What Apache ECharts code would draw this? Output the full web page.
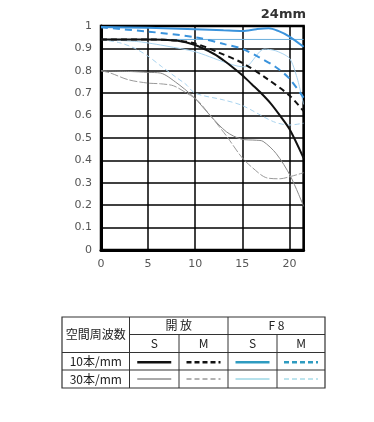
<!DOCTYPE html>
<html>
<head>
<meta charset="utf-8">
<script src="https://cdn.jsdelivr.net/npm/echarts@6/dist/echarts.min.js"></script>
<style>
html,body{margin:0;padding:0;background:#fff;}
#c{width:374px;height:422px;}
</style>
</head>
<body>
<div id="c"></div>
<script>
// ---- data ----
const yTickLabels = ['0','0.1','0.2','0.3','0.4','0.5','0.6','0.7','0.8','0.9','1'];
const xTickValues = [0,5,10,15,20];

const openS10X = [0,5,8,10,12,13,14,15,16,17,18,19,20,21.5];
const openS10  = [0.94,0.94,0.935,0.915,0.875,0.847,0.815,0.78,0.74,0.70,0.655,0.60,0.54,0.41];

const openM10X = [0,5,8,10,12.3,15,17.6,20,21.5];
const openM10  = [0.94,0.94,0.935,0.922,0.885,0.835,0.765,0.69,0.62];

const f8S10X = [0,5,10,13,15,16.5,17.8,18.8,20,21.5];
const f8S10  = [0.995,0.992,0.986,0.981,0.978,0.986,0.99,0.978,0.953,0.907];

const f8M10X = [0,5,10,13.2,15,16.7,18.5,20,21.5];
const f8M10  = [0.994,0.975,0.95,0.918,0.898,0.862,0.818,0.765,0.68];

const openS30X = [0,3,5,6.3,7.9,9.8,11.6,13.3,14.9,16.5,17.2,18.6,20.1,21.5];
const openS30  = [0.80,0.797,0.793,0.79,0.75,0.684,0.60,0.528,0.495,0.49,0.485,0.43,0.33,0.195];

const openM30X = [0,1,2.9,5,6.3,7.7,9.1,10.2,11.6,13.3,14.9,16,17.6,19,20.1,21.5];
const openM30  = [0.80,0.79,0.76,0.745,0.742,0.733,0.70,0.67,0.60,0.51,0.416,0.37,0.322,0.318,0.328,0.345];

const f8S30X = [0,4,7,10,13,15,15.5,17.3,18.5,20,20.8,21.5];
const f8S30  = [0.94,0.93,0.91,0.885,0.84,0.818,0.82,0.897,0.89,0.856,0.77,0.65];

const f8M30X = [0,2,3.6,5,6.4,8,9,10,13,15,18.3,20,21.5];
const f8M30  = [0.94,0.925,0.90,0.865,0.82,0.77,0.74,0.70,0.67,0.645,0.573,0.558,0.566];

const flatX = [0,21.5];
const flat  = [0.94,0.94];

const focalLabel = '24mm';
const tableHeader = ['空間周波数','開 放','F 8'];
const subHeader = ['S','M','S','M'];
const rowLabels = ['10本/mm','30本/mm'];

// ---- build ----
const zip = (xs, ys) => xs.map((x,i)=>[x, ys[i]]);
const BLUE = '#3a93dc';
const LBLUE = '#a8d3ef';

function line(name, xs, ys, color, width, type, smooth, z){
  return {
    name, type:'line', data: zip(xs,ys), showSymbol:false, symbol:'none',
    smooth: smooth, z: z||2, silent:true,
    lineStyle:{color, width, type}
  };
}

const series = [
  line('flat', flatX, flat, '#6aaedb', 1, 'solid', false, 2),
  line('F8 S 30', f8S30X, f8S30, LBLUE, 1, 'solid', 0.25, 2),
  line('F8 M 30', f8M30X, f8M30, LBLUE, 1, [5,3], 0.3, 2),
  line('開放 S 30', openS30X, openS30, '#8a8a8a', 1, 'solid', 0.3, 3),
  line('開放 M 30', openM30X, openM30, '#9a9a9a', 1, [8,2], 0.3, 3),
  line('F8 S 10', f8S10X, f8S10, BLUE, 2, 'solid', 0.3, 4),
  line('F8 M 10', f8M10X, f8M10, BLUE, 2, [7,5], 0.3, 4),
  line('開放 S 10', openS10X, openS10, '#111', 2, 'solid', 0.3, 5),
  line('開放 M 10', openM10X, openM10, '#111', 2, [6,4], 0.3, 5)
];

// table graphic
const T = {x0:62, x1:325, y0:317, y1:388, c1:129.5, c2:179, c3:228, c4:277, r1:334.5, r2:352.5, r3:370};
const G = [];
function hl(x1,x2,y,w){G.push({type:'line',shape:{x1,y1:y,x2,y2:y},style:{stroke:'#333',lineWidth:w||1}});}
function vl(x,y1,y2,w){G.push({type:'line',shape:{x1:x,y1,x2:x,y2},style:{stroke:'#333',lineWidth:w||1}});}
function tx(t,x,y,size){G.push({type:'text',x,y,style:{text:t,fill:'#222',font:(size||12)+'px "Noto Sans CJK JP", sans-serif',textAlign:'center',textVerticalAlign:'middle'}});}
G.push({type:'rect',shape:{x:T.x0,y:T.y0,width:T.x1-T.x0,height:T.y1-T.y0},style:{fill:'none',stroke:'#333',lineWidth:1.2}});
hl(T.c1,T.x1,T.r1); hl(T.x0,T.x1,T.r2); hl(T.x0,T.x1,T.r3);
vl(T.c1,T.y0,T.y1); vl(T.c2,T.r1,T.y1); vl(T.c3,T.y0,T.y1); vl(T.c4,T.r1,T.y1);
tx(tableHeader[0],(T.x0+T.c1)/2,(T.y0+T.r2)/2);
tx(tableHeader[1],(T.c1+T.c3)/2,(T.y0+T.r1)/2);
tx(tableHeader[2],(T.c3+T.x1)/2,(T.y0+T.r1)/2);
const cx = [(T.c1+T.c2)/2,(T.c2+T.c3)/2,(T.c3+T.c4)/2,(T.c4+T.x1)/2];
subHeader.forEach((s,i)=>tx(s,cx[i],(T.r1+T.r2)/2));
tx(rowLabels[0],(T.x0+T.c1)/2,(T.r2+T.r3)/2);
tx(rowLabels[1],(T.x0+T.c1)/2,(T.r3+T.y1)/2);
const legStyles = [
  [{c:'#111',w:2.5,d:null},{c:'#111',w:2.5,d:[5,3]},{c:'#2e9bc0',w:2.5,d:null},{c:'#2e9bc0',w:2.5,d:[5,3]}],
  [{c:'#555',w:1,d:null},{c:'#666',w:1,d:[5,3]},{c:'#6cc3d8',w:1,d:null},{c:'#7cc9dc',w:1,d:[5,3]}]
];
const rowY = [(T.r2+T.r3)/2+1,(T.r3+T.y1)/2];
legStyles.forEach((row,ri)=>row.forEach((s,ci)=>{
  G.push({type:'line',shape:{x1:cx[ci]-17,y1:rowY[ri],x2:cx[ci]+17,y2:rowY[ri]},
    style:{stroke:s.c,lineWidth:s.w,lineDash:s.d}});
}));
G.push({type:'text',right:68,top:8,style:{text:focalLabel,fill:'#333',font:'bold 13px "DejaVu Sans", sans-serif'}});

const chart = echarts.init(document.getElementById('c'), null, {renderer:'canvas'});
chart.setOption({
  animation:false,
  backgroundColor:'#fff',
  grid:{left:101, top:26, width:202.6, height:224, show:true, borderColor:'#000', borderWidth:2.5, backgroundColor:'transparent'},
  xAxis:{type:'value', min:0, max:21.5, interval:5,
    axisLine:{show:true, lineStyle:{color:'#000', width:3}},
    axisTick:{show:false},
    splitLine:{show:true, lineStyle:{color:'#000', width:1.5}},
    axisLabel:{color:'#555', fontSize:11, margin:9, fontFamily:'"DejaVu Sans", sans-serif', showMaxLabel:false,
      formatter:(v)=> xTickValues.indexOf(v)>=0 ? String(v) : ''}
  },
  yAxis:{type:'value', min:0, max:1, interval:0.1,
    axisLine:{show:true, lineStyle:{color:'#000', width:3}},
    axisTick:{show:false},
    splitLine:{show:true, lineStyle:{color:'#000', width:1.5}},
    axisLabel:{color:'#555', fontSize:11, margin:9, fontFamily:'"DejaVu Sans", sans-serif',
      formatter:(v,i)=> yTickLabels[Math.round(v*10)]}
  },
  series,
  graphic: G
});
</script>
</body>
</html>
